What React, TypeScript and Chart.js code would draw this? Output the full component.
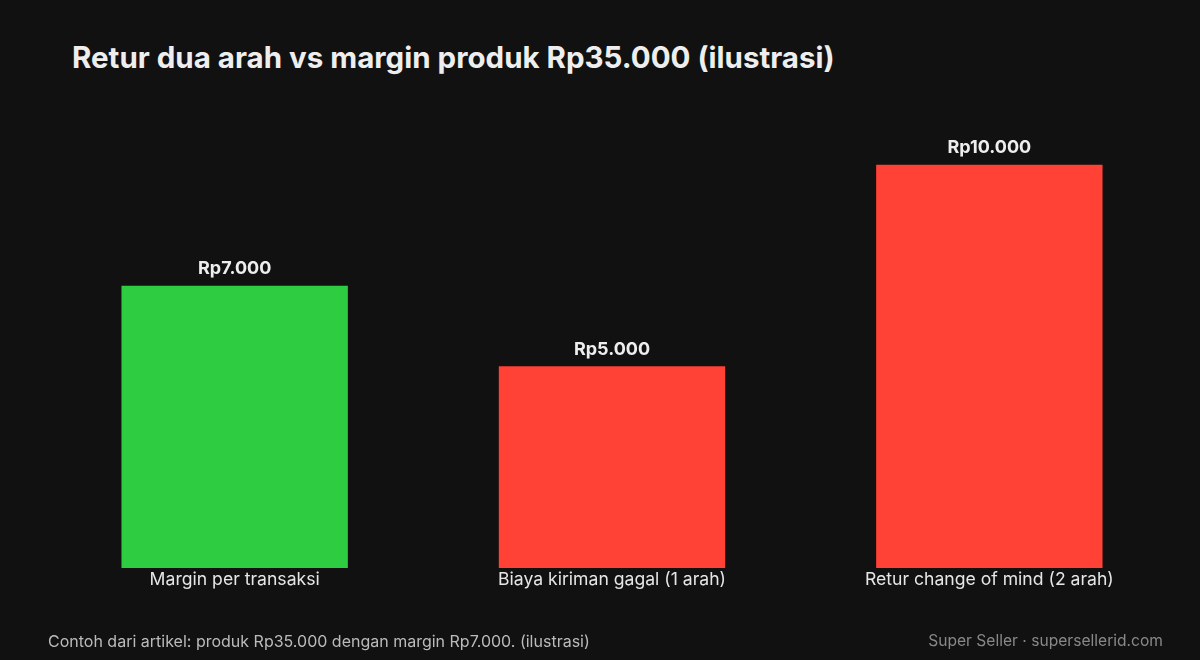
import { useRef, useEffect } from 'react'
import Chart from 'chart.js/auto'

const categories = ['Margin per transaksi', 'Biaya kiriman gagal (1 arah)', 'Retur change of mind (2 arah)']
const amounts = [7000, 5000, 10000]
const barColors = ['#2ECC40', '#FF4136', '#FF4136']

const FONT = 'Inter, "Noto Sans", sans-serif'

const formatRp = (v: number) => 'Rp' + v.toLocaleString('id-ID')

const valueLabels = {
  id: 'valueLabels',
  afterDatasetsDraw(chart: Chart) {
    const { ctx } = chart
    const meta = chart.getDatasetMeta(0)
    ctx.save()
    ctx.font = `700 18px ${FONT}`
    ctx.fillStyle = '#eeeeee'
    ctx.textAlign = 'center'
    ctx.textBaseline = 'bottom'
    meta.data.forEach((bar: any, i: number) => {
      ctx.fillText(formatRp(amounts[i]), bar.x, bar.y - 8)
    })
    ctx.restore()
  },
}

export default function App() {
  const canvasRef = useRef<HTMLCanvasElement>(null)
  const chartRef = useRef<Chart | null>(null)

  useEffect(() => {
    if (!canvasRef.current) return
    Chart.getChart(canvasRef.current!)?.destroy(); if (chartRef.current) chartRef.current.destroy()

    chartRef.current = new Chart(canvasRef.current, {
      type: 'bar',
      data: {
        labels: categories,
        datasets: [{
          data: amounts,
          backgroundColor: barColors,
          borderWidth: 0,
          barPercentage: 0.6,
          categoryPercentage: 1,
        }],
      },
      options: {
        responsive: true,
        maintainAspectRatio: false,
        animation: false,
        layout: { padding: { left: 46, right: 22, top: 84, bottom: 62 } },
        plugins: {
          legend: { display: false },
          tooltip: { enabled: false },
        },
        scales: {
          x: {
            grid: { display: false, drawTicks: false },
            border: { display: false },
            ticks: { color: '#e6e6e6', font: { family: FONT, size: 17.6 }, padding: 1 },
            afterFit: (s: any) => { s.height = 30 },
          },
          y: {
            display: false,
            min: 0,
            max: 12000,
          },
        },
      },
      plugins: [valueLabels],
    })

    return () => { chartRef.current?.destroy(); chartRef.current = null }
  }, [])

  return (
    <div style={{ position: 'fixed', left: 0, top: 0, width: 1200, height: 660, background: '#111111', fontFamily: FONT }}>
      <div style={{ position: 'absolute', left: 72, top: 39, fontSize: 29.5, fontWeight: 700, color: '#eeeeee', whiteSpace: 'nowrap' }}>
        Retur dua arah vs margin produk Rp35.000 (ilustrasi)
      </div>
      <canvas ref={canvasRef} style={{ position: 'absolute', left: 0, top: 0 }} />
      <div style={{ position: 'absolute', left: 48, top: 631, fontSize: 16, color: '#bbbbbb', whiteSpace: 'nowrap' }}>
        Contoh dari artikel: produk Rp35.000 dengan margin Rp7.000. (ilustrasi)
      </div>
      <div style={{ position: 'absolute', right: 37, top: 631, fontSize: 15.6, color: '#888888', whiteSpace: 'nowrap' }}>
        Super Seller · supersellerid.com
      </div>
    </div>
  )
}
